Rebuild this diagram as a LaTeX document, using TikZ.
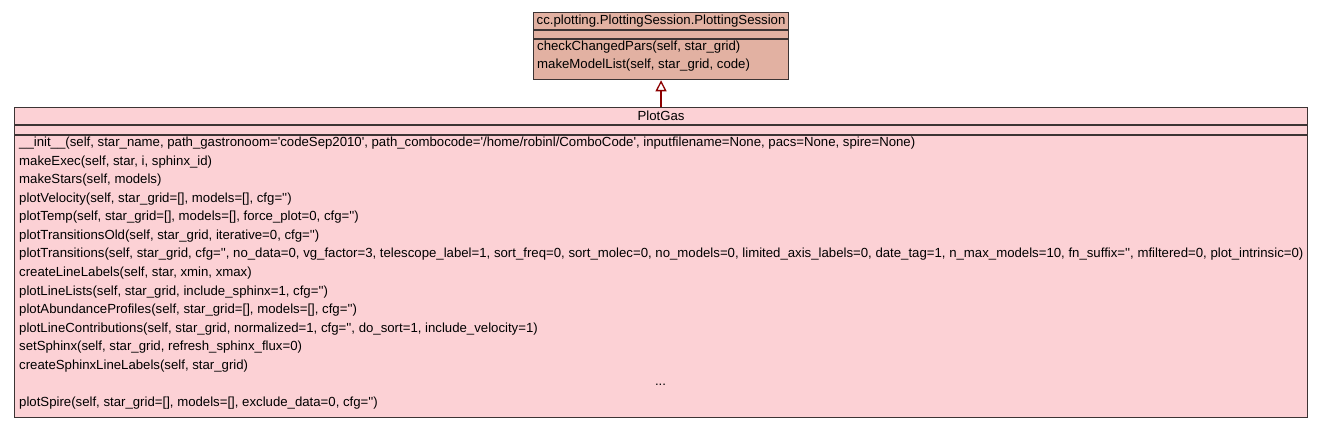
\documentclass[tikz,border=0pt]{standalone}
\usepackage{fontspec}
\newfontfamily\umlfont[Ligatures=TeXOff]{Liberation Sans}
\usetikzlibrary{arrows.meta}

\definecolor{sessfill}{RGB}{226,177,162}
\definecolor{gasfill}{RGB}{252,209,213}
\definecolor{boxline}{RGB}{60,52,52}
\definecolor{inhred}{RGB}{140,0,0}

\begin{document}
\begin{tikzpicture}[x=1pt,y=-1pt,
  classbox/.style={draw=boxline, line width=1.1pt, inner sep=0pt, font=\umlfont\fontsize{13.2}{15}\selectfont},
  op/.style={anchor=west, inner sep=0pt, font=\umlfont\fontsize{13.2}{15}\selectfont},
  inherit/.style={draw=inhred, line width=2.6pt, -{Triangle[open, length=11pt, width=11pt, line width=1.3pt, fill=white]}}]
  \useasboundingbox (0,0) rectangle (1323,427);

  % base class
  \node[classbox, fill=sessfill, minimum width=255pt, minimum height=17pt, anchor=north west] (sesstitle) at (533,12) {cc.plotting.PlottingSession.PlottingSession};
  \node[classbox, fill=sessfill, minimum width=255pt, minimum height=8pt, anchor=north] (sessattr) at (sesstitle.south) {};
  \node[classbox, fill=sessfill, minimum width=255pt, minimum height=40pt, anchor=north] (sessops) at (sessattr.south) {};
  \node[op] (s1) at (537,47) {checkChangedPars(self, star\_grid)};
  \node[op] (s2) at (537,65) {makeModelList(self, star\_grid, code)};

  % derived class
  \node[classbox, fill=gasfill, minimum width=1293pt, minimum height=17pt, anchor=north west] (gastitle) at (14,107) {PlotGas};
  \node[classbox, fill=gasfill, minimum width=1293pt, minimum height=9pt, anchor=north] (gasattr) at (gastitle.south) {};
  \node[classbox, fill=gasfill, minimum width=1293pt, minimum height=282pt, anchor=north] (gasops) at (gasattr.south) {};

  % operations
  \node[op] (m1) at (19,143) {\_\_init\_\_(self, star\_name, path\_gastronoom='codeSep2010', path\_combocode='/home/robinl/ComboCode', inputfilename=None, pacs=None, spire=None)};
  \node[op] (m2) at (19,161.6) {makeExec(self, star, i, sphinx\_id)};
  \node[op] (m3) at (19,180.1) {makeStars(self, models)};
  \node[op] (m4) at (19,198.7) {plotVelocity(self, star\_grid=[], models=[], cfg='')};
  \node[op] (m5) at (19,217.3) {plotTemp(self, star\_grid=[], models=[], force\_plot=0, cfg='')};
  \node[op] (m6) at (19,235.9) {plotTransitionsOld(self, star\_grid, iterative=0, cfg='')};
  \node[op] (m7) at (19,254.4) {plotTransitions(self, star\_grid, cfg='', no\_data=0, vg\_factor=3, telescope\_label=1, sort\_freq=0, sort\_molec=0, no\_models=0, limited\_axis\_labels=0, date\_tag=1, n\_max\_models=10, fn\_suffix='', mfiltered=0, plot\_intrinsic=0)};
  \node[op] (m8) at (19,273) {createLineLabels(self, star, xmin, xmax)};
  \node[op] (m9) at (19,291.6) {plotLineLists(self, star\_grid, include\_sphinx=1, cfg='')};
  \node[op] (m10) at (19,310.1) {plotAbundanceProfiles(self, star\_grid=[], models=[], cfg='')};
  \node[op] (m11) at (19,328.7) {plotLineContributions(self, star\_grid, normalized=1, cfg='', do\_sort=1, include\_velocity=1)};
  \node[op] (m12) at (19,347.3) {setSphinx(self, star\_grid, refresh\_sphinx\_flux=0)};
  \node[op] (m13) at (19,365.9) {createSphinxLineLabels(self, star\_grid)};
  \node[op, anchor=center] (m14) at (660.5,384.4) {...};
  \node[op] (m15) at (19,403) {plotSpire(self, star\_grid=[], models=[], exclude\_data=0, cfg='')};

  % generalisation
  \draw[inherit] (gastitle.north) -- (sessops.south);
\end{tikzpicture}
\end{document}
